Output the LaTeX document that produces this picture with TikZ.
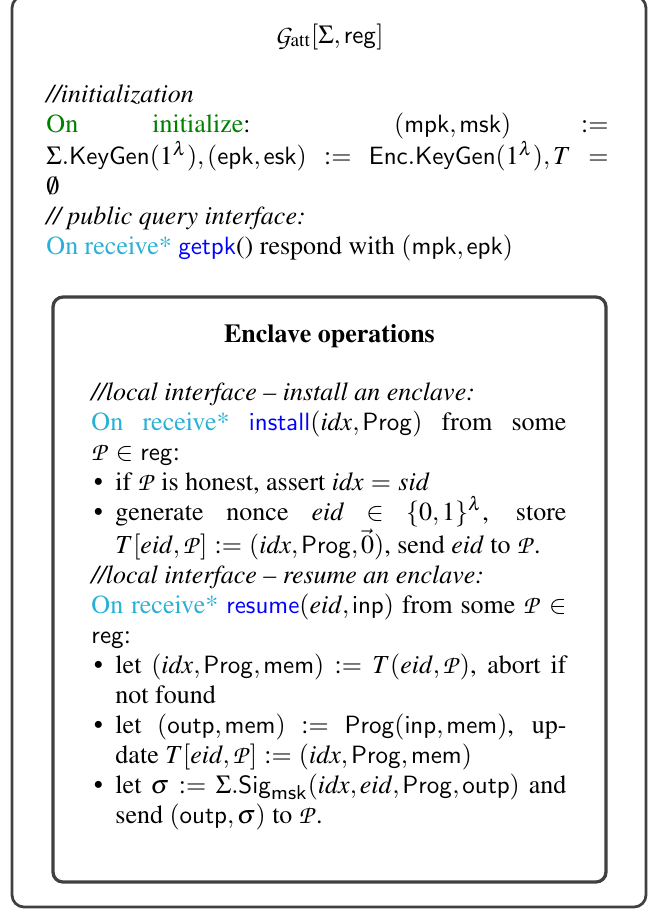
\documentclass[tikz,border=0pt]{standalone}
\usepackage[T1]{fontenc}
\usepackage{mathptmx}
\usepackage{xcolor}
\usepackage{tikz}

\DeclareMathAlphabet{\mathcal}{OT1}{pzc}{m}{it}
\definecolor{initgreen}{rgb}{0,0.5,0}
\definecolor{rcvcyan}{rgb}{0.16,0.69,0.84}
\definecolor{callblue}{rgb}{0,0,1}
\newcommand{\alg}[1]{\mathsf{#1}}
\newcommand{\var}[1]{\mathit{#1}}
\newcommand{\party}{\mathcal{P}}
% tight justified text, as in a two-column paper
\newcommand{\tightspacing}{\spaceskip=0.25em plus 0.3em minus 0.14em\thickmuskip=5mu plus 5mu minus 3mu}
\newenvironment{stepitems}{\begin{list}{\textbullet}{\setlength{\leftmargin}{9.6pt}\setlength{\labelsep}{5pt}\setlength{\itemsep}{0pt}\setlength{\parsep}{0pt}\setlength{\topsep}{0pt}\setlength{\partopsep}{0pt}}}{\end{list}}

\begin{document}
\begin{tikzpicture}[x=0.4pt, y=-0.4pt,
  framebox/.style={draw=black!75, line width=1.1pt, rounded corners=4.8pt},
  opsbox/.style={draw=black!75, line width=1.3pt, rounded corners=4pt},
  body/.style={inner sep=0pt, anchor=base west, align=justify, font=\fontsize{10.4}{12}\selectfont\tightspacing},
  heading/.style={inner sep=0pt, anchor=base, font=\fontsize{10.4}{12}\selectfont}
  ]
  \useasboundingbox (0,0) rectangle (655,909);
  \draw[framebox] (12,-4) rectangle (646,907);
  \draw[opsbox] (53,297) rectangle (606,882);

  \node[heading] (gatt) at (329,43) {$\mathcal{G}_{\mathrm{att}}[\Sigma,\alg{reg}]$};
  \node[body, text width=224.8pt] (setup) at (46,102) {%
    \textit{//initialization}\\
    \textcolor{initgreen}{On initialize}: $(\alg{mpk},\alg{msk}) :=$\linebreak
    $\Sigma.\alg{KeyGen}(1^\lambda), (\alg{epk},\alg{esk}) := \alg{Enc}.\alg{KeyGen}(1^\lambda), T =$\linebreak
    $\emptyset$\\
    \textit{// public query interface:}\\
    \textcolor{rcvcyan}{On receive*} \textcolor{callblue}{$\alg{getpk}$}() respond with $(\alg{mpk},\alg{epk})$};

  \node[heading] (enclave) at (329.5,342) {\textbf{Enclave operations}};
  \node[body, text width=190pt] (ops) at (91,400) {%
    \textit{//local interface -- install an enclave:}\\
    \textcolor{rcvcyan}{On receive*} \textcolor{callblue}{$\alg{install}$}$(\var{idx},\alg{Prog})$ from some\linebreak
    $\party\in\alg{reg}$:
    \begin{stepitems}
      \item if $\party$ is honest, assert $\var{idx}=\var{sid}$
      \item generate nonce $\var{eid}\in\{0,1\}^\lambda$, store\linebreak
        $T[\var{eid},\party] := (\var{idx},\alg{Prog},\vec{0})$, send $\var{eid}$ to $\party$.
    \end{stepitems}
    \textit{//local interface -- resume an enclave:}\\
    \textcolor{rcvcyan}{On receive*} \textcolor{callblue}{$\alg{resume}$}$(\var{eid},\alg{inp})$ from some $\party\in$\linebreak
    $\alg{reg}$:
    \begin{stepitems}
      \item let $(\var{idx},\alg{Prog},\alg{mem}) := T(\var{eid},\party)$, abort if\linebreak
        not found
      \item let $(\alg{outp},\alg{mem}) := \alg{Prog}(\alg{inp},\alg{mem})$, up-\linebreak
        date $T[\var{eid},\party] := (\var{idx},\alg{Prog},\alg{mem})$
      \item let $\sigma := \Sigma.\alg{Sig}_{\alg{msk}}(\var{idx},\var{eid},\alg{Prog},\alg{outp})$ and\linebreak
        send $(\alg{outp},\sigma)$ to $\party$.
    \end{stepitems}};
\end{tikzpicture}
\end{document}
